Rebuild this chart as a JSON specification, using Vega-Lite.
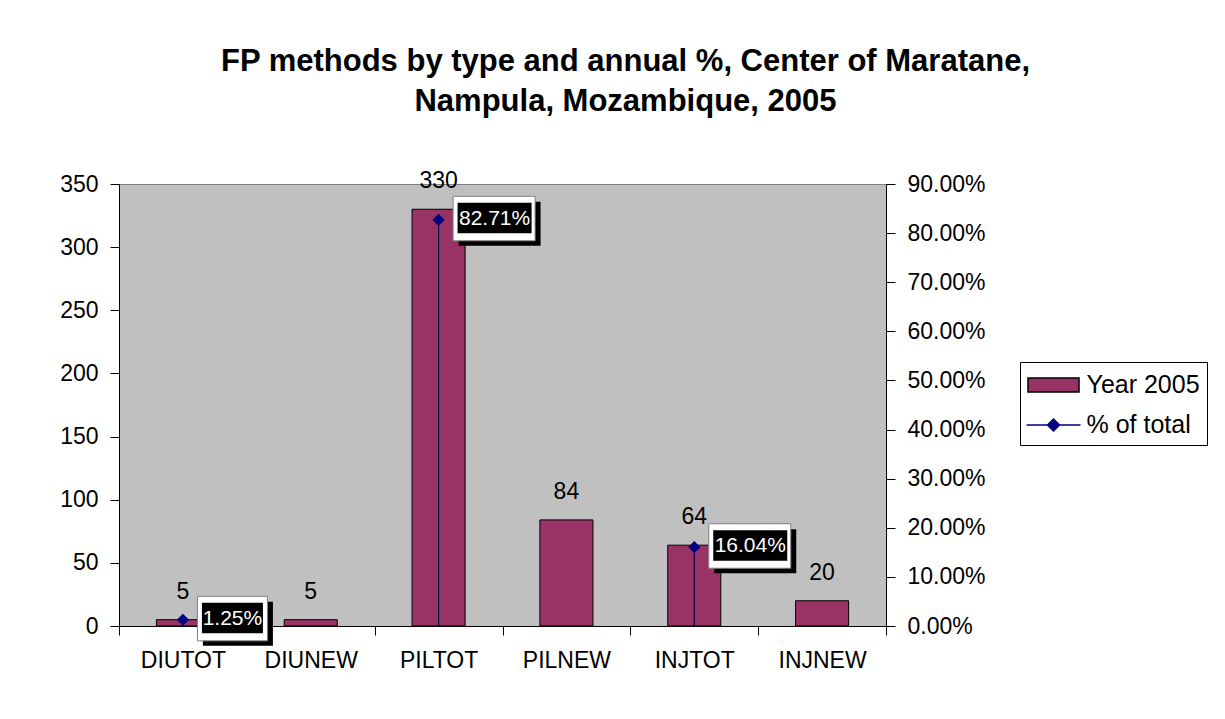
{
  "$schema": "https://vega.github.io/schema/vega-lite/v6.json",
  "autosize": "none",
  "width": 767,
  "height": 442,
  "padding": {"left": 119, "top": 184, "right": 339, "bottom": 93},
  "background": "white",
  "title": {
    "text": ["FP methods by type and annual %, Center of Maratane,", "Nampula, Mozambique, 2005"],
    "font": "Liberation Sans",
    "fontSize": 31,
    "fontWeight": "bold",
    "color": "black",
    "anchor": "middle",
    "frame": "group",
    "dx": 123,
    "lineHeight": 40,
    "offset": 52
  },
  "data": {
    "values": [
      {"cat": "DIUTOT", "n": 5, "pct": 0.0125},
      {"cat": "DIUNEW", "n": 5, "pct": null},
      {"cat": "PILTOT", "n": 330, "pct": 0.8271},
      {"cat": "PILNEW", "n": 84, "pct": null},
      {"cat": "INJTOT", "n": 64, "pct": 0.1604},
      {"cat": "INJNEW", "n": 20, "pct": null}
    ]
  },
  "encoding": {
    "x": {
      "field": "cat",
      "type": "nominal",
      "sort": null,
      "scale": {"paddingInner": 0, "paddingOuter": 0},
      "axis": {
        "title": null,
        "labelAngle": 0,
        "labelFontSize": 23,
        "labelColor": "black",
        "labelPadding": 14,
        "tickBand": "extent",
        "tickSize": 9,
        "tickColor": "black",
        "domainColor": "black"
      }
    }
  },
  "layer": [
    {
      "layer": [
        {
          "mark": {"type": "bar", "width": {"band": 0.415}, "stroke": "black", "strokeWidth": 1},
          "encoding": {
            "y": {
              "field": "n",
              "type": "quantitative",
              "scale": {"domain": [0, 350], "nice": false},
              "axis": {
                "title": null,
                "values": [0, 50, 100, 150, 200, 250, 300, 350],
                "labelFontSize": 23,
                "labelColor": "black",
                "labelPadding": 12,
                "tickSize": 9,
                "tickColor": "black",
                "domainColor": "black",
                "grid": false
              }
            },
            "color": {
              "datum": "Year 2005",
              "type": "nominal",
              "scale": {"domain": ["Year 2005"], "range": ["#993366"]},
              "legend": {
                "title": " ",
                "titleOrient": "bottom",
                "titleFontSize": 30,
                "titlePadding": 10,
                "orient": "none",
                "legendX": 901,
                "legendY": 178,
                "strokeColor": "black",
                "fillColor": "white",
                "padding": 7,
                "symbolType": "M-1.7,-0.47H1.7V0.47H-1.7Z",
                "symbolSize": 900,
                "symbolOffset": 10.5,
                "symbolStrokeWidth": 1.5,
                "labelOffset": 17,
                "labelFontSize": 25,
                "labelColor": "black",
                "labelFont": "Liberation Sans"
              }
            }
          }
        },
        {
          "mark": {"type": "text", "baseline": "alphabetic", "dy": -21, "fontSize": 23, "color": "black"},
          "encoding": {
            "y": {"field": "n", "type": "quantitative"},
            "text": {"field": "n", "type": "quantitative"}
          }
        }
      ]
    },
    {
      "transform": [{"filter": "isValid(datum.pct)"}],
      "layer": [
        {
          "mark": {"type": "rule", "color": "#000040", "strokeWidth": 1.2},
          "encoding": {
            "y": {
              "field": "pct",
              "type": "quantitative",
              "scale": {"domain": [0, 0.9], "nice": false},
              "axis": {
                "orient": "right",
                "title": null,
                "format": ".2%",
                "values": [0, 0.1, 0.2, 0.3, 0.4, 0.5, 0.6, 0.7, 0.8, 0.9],
                "labelFontSize": 23,
                "labelColor": "black",
                "labelPadding": 12,
                "tickSize": 9,
                "tickColor": "black",
                "domainColor": "black",
                "grid": false
              }
            },
            "y2": {"datum": 0}
          }
        },
        {
          "mark": {"type": "point", "shape": "diamond", "filled": true, "size": 150, "opacity": 1},
          "encoding": {
            "y": {"field": "pct", "type": "quantitative"},
            "fill": {
              "datum": "% of total",
              "type": "nominal",
              "scale": {"domain": ["% of total"], "range": ["#000080"]},
              "legend": {
                "title": null,
                "orient": "none",
                "legendX": 901,
                "legendY": 218,
                "padding": 7,
                "symbolType": "M-1.8,0H1.8M0,-0.4L0.4,0L0,0.4L-0.4,0Z",
                "symbolSize": 900,
                "symbolOffset": 10.5,
                "symbolStrokeColor": "#000080",
                "symbolStrokeWidth": 1.5,
                "labelOffset": 17,
                "labelFontSize": 25,
                "labelColor": "black",
                "labelFont": "Liberation Sans"
              }
            }
          }
        },
        {
          "mark": {"type": "point", "filled": true, "size": 4, "color": "black", "opacity": 1},
          "encoding": {
            "y": {"field": "pct", "type": "quantitative"},
            "shape": {
              "condition": {"test": "datum.pct < 0.1", "value": "M20,-18H90V26H20Z"},
              "value": "M20,-18H102V26H20Z"
            }
          }
        },
        {
          "mark": {"type": "point", "filled": true, "size": 4, "fill": "white", "stroke": "#808080", "strokeWidth": 1, "opacity": 1},
          "encoding": {
            "y": {"field": "pct", "type": "quantitative"},
            "shape": {
              "condition": {"test": "datum.pct < 0.1", "value": "M14.5,-23.5H84.5V21H14.5Z"},
              "value": "M14.5,-23.5H96.5V21H14.5Z"
            }
          }
        },
        {
          "mark": {"type": "point", "filled": true, "size": 4, "color": "black", "opacity": 1},
          "encoding": {
            "y": {"field": "pct", "type": "quantitative"},
            "shape": {
              "condition": {"test": "datum.pct < 0.1", "value": "M19,-17H80V13.5H19Z"},
              "value": "M19,-17H93V13.5H19Z"
            }
          }
        },
        {
          "transform": [{"filter": "datum.pct >= 0.1"}],
          "mark": {"type": "text", "fontSize": 21, "color": "white", "baseline": "middle", "align": "center", "dx": 56, "dy": -1},
          "encoding": {
            "y": {"field": "pct", "type": "quantitative"},
            "text": {"field": "pct", "type": "quantitative", "format": ".2%"}
          }
        },
        {
          "transform": [{"filter": "datum.pct < 0.1"}],
          "mark": {"type": "text", "fontSize": 21, "color": "white", "baseline": "middle", "align": "center", "dx": 49.5, "dy": -1},
          "encoding": {
            "y": {"field": "pct", "type": "quantitative"},
            "text": {"field": "pct", "type": "quantitative", "format": ".2%"}
          }
        }
      ]
    }
  ],
  "resolve": {"scale": {"y": "independent"}},
  "config": {
    "font": "Liberation Sans",
    "view": {"fill": "#C0C0C0", "stroke": "#808080", "strokeWidth": 1},
    "axis": {"labelFont": "Liberation Sans"}
  }
}
